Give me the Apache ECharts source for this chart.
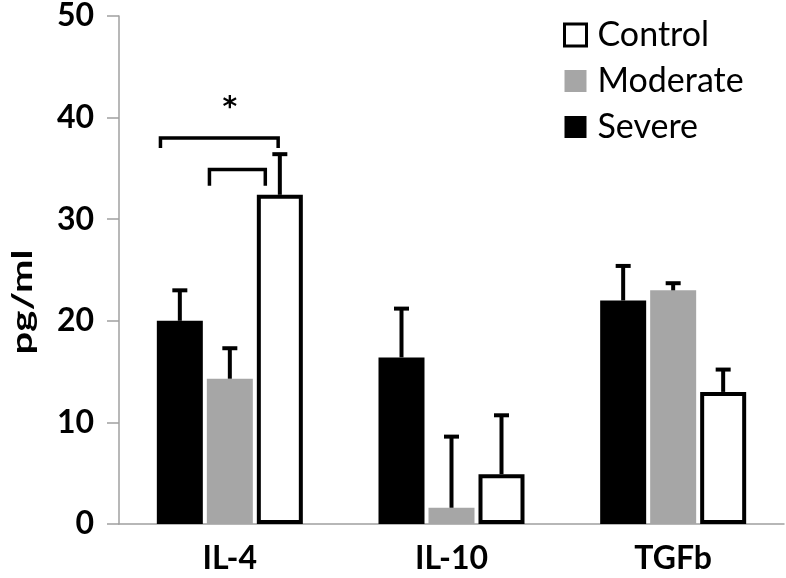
<!DOCTYPE html>
<html>
<head>
<meta charset="utf-8">
<script src="https://cdn.jsdelivr.net/npm/echarts@6/dist/echarts.min.js"></script>
<style>html,body{margin:0;padding:0;background:#fff;}#c{width:786px;height:578px;}</style>
</head>
<body>
<div id="c"></div>
<script>
// ---- data ----
var categories = ['IL-4', 'IL-10', 'TGFb'];
var seriesNames = ['Severe', 'Moderate', 'Control'];
var severeValues = [20.0, 16.4, 22.0];
var moderateValues = [14.3, 1.6, 23.0];
var controlValues = [32.4, 4.9, 13.0];
var severeErrTop = [23.0, 21.2, 25.4];
var moderateErrTop = [17.3, 8.6, 23.7];
var controlErrTop = [36.4, 10.7, 15.2];
var yTicks = [0, 10, 20, 30, 40, 50];
var legendOrder = ['Control', 'Moderate', 'Severe'];
// significance brackets: category, top value, end value
var bracketCats = [0, 0];
var bracketTops = [38.0, 34.9];
var bracketEnds = [37.0, 33.3];
var starCat = 0;
var starValue = 40.9;
var starText = '*';

var FONT = 'Lato';
var BAR_W = 46, BAR_STEP = 50;
var valuesBySeries = [severeValues, moderateValues, controlValues];
var errBySeries = [severeErrTop, moderateErrTop, controlErrTop];

var errData = [];
for (var s = 0; s < 3; s++) {
  for (var c = 0; c < categories.length; c++) {
    errData.push([c, valuesBySeries[s][c], errBySeries[s][c], s]);
  }
}
// bracket horizontal spans as fractions of band width (style/layout)
var bracketSpans = [[-0.313, 0.218], [-0.092, 0.16]];
var bracketData = bracketCats.map(function (c, i) { return [c, bracketTops[i], bracketEnds[i], i]; });

var legendData = legendOrder.map(function (n) {
  return n === 'Control' ? { name: n, itemStyle: { borderWidth: 3, borderColor: '#000', color: '#fff' } } : { name: n };
});

var chart = echarts.init(document.getElementById('c'));
var option = {
  animation: false,
  backgroundColor: '#fff',
  grid: { left: 119, right: 2, top: 15, bottom: 54, containLabel: false },
  legend: {
    data: legendData,
    orient: 'vertical',
    left: 563,
    top: 18,
    padding: 0,
    itemWidth: 22,
    itemHeight: 22,
    itemGap: 12,
    icon: 'rect',
    textStyle: { fontFamily: FONT, fontSize: 34, color: '#000', padding: [0, 0, 0, 6] }
  },
  xAxis: {
    type: 'category',
    data: categories,
    axisLine: { lineStyle: { color: '#a0a0a0', width: 1.5 } },
    axisTick: { show: false },
    axisLabel: { fontFamily: FONT, fontWeight: 'bold', fontSize: 32, color: '#000', margin: 19 }
  },
  yAxis: {
    type: 'value',
    min: yTicks[0],
    max: yTicks[yTicks.length - 1],
    interval: yTicks[1] - yTicks[0],
    axisLine: { show: true, lineStyle: { color: '#a0a0a0', width: 1.5 } },
    axisTick: { show: true, length: 12, lineStyle: { color: '#a0a0a0', width: 1.5 } },
    splitLine: { show: false },
    axisLabel: { fontFamily: FONT, fontWeight: 'bold', fontSize: 32, color: '#000', margin: 25 }
  },
  graphic: [{
    type: 'text',
    x: 23,
    y: 302,
    rotation: Math.PI / 2,
    scaleX: 1.38,
    style: { text: 'pg/ml', font: 'bold 29px ' + FONT, fill: '#000', align: 'center', verticalAlign: 'middle' }
  }],
  series: [
    {
      name: 'Severe', type: 'bar', data: severeValues, barWidth: BAR_W, barGap: '8.7%',
      itemStyle: { color: '#000', borderColor: '#000', borderWidth: 0 }
    },
    {
      name: 'Moderate', type: 'bar', data: moderateValues, barWidth: BAR_W, barGap: '8.7%',
      itemStyle: { color: '#a6a6a6' }
    },
    {
      name: 'Control', type: 'bar', data: controlValues, barWidth: BAR_W, barGap: '8.7%',
      itemStyle: { color: '#fff', borderColor: '#000', borderWidth: 4 }
    },
    {
      type: 'custom', name: 'err', silent: true, z: 5,
      data: errData,
      encode: { x: 0, y: [1, 2] },
      renderItem: function (params, api) {
        var c = api.value(0), v = api.value(1), t = api.value(2), s = api.value(3);
        var off = (s - 1) * BAR_STEP;
        var p0 = api.coord([c, v]);
        var p1 = api.coord([c, t]);
        var x = p0[0] + off;
        return {
          type: 'group',
          children: [
            { type: 'line', shape: { x1: x, y1: p0[1], x2: x, y2: p1[1] }, style: { stroke: '#000', lineWidth: 4 } },
            { type: 'line', shape: { x1: x - 7.5, y1: p1[1], x2: x + 7.5, y2: p1[1] }, style: { stroke: '#000', lineWidth: 4 } }
          ]
        };
      }
    },
    {
      type: 'custom', name: 'brackets', silent: true, z: 5,
      data: bracketData,
      encode: { x: 0, y: [1, 2] },
      renderItem: function (params, api) {
        var c = api.value(0), top = api.value(1), end = api.value(2), i = api.value(3);
        var band = api.size([1, 0])[0];
        var pt = api.coord([c, top]);
        var pe = api.coord([c, end]);
        var x1 = pt[0] + bracketSpans[i][0] * band;
        var x2 = pt[0] + bracketSpans[i][1] * band;
        return {
          type: 'polyline',
          shape: { points: [[x1, pe[1]], [x1, pt[1]], [x2, pt[1]], [x2, pe[1]]] },
          style: { stroke: '#000', lineWidth: 3.5, fill: null }
        };
      }
    },
    {
      type: 'custom', name: 'star', silent: true, z: 5,
      data: [[starCat, starValue]],
      renderItem: function (params, api) {
        var p = api.coord([api.value(0), api.value(1)]);
        return {
          type: 'text',
          x: p[0], y: p[1],
          style: { text: starText, font: 'bold 28px "DejaVu Sans"', fill: '#000', align: 'center', verticalAlign: 'middle' }
        };
      }
    }
  ]
};
chart.setOption(option);
</script>
</body>
</html>
